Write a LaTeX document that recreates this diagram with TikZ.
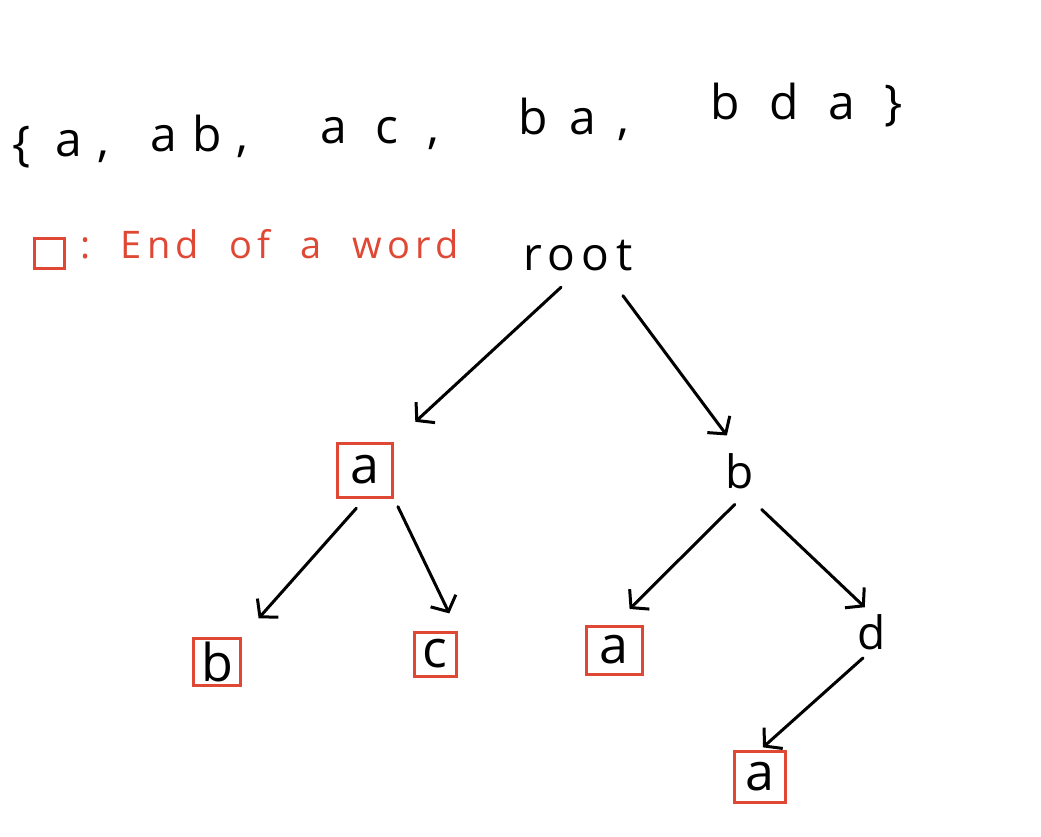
\documentclass[tikz,border=0pt]{standalone}
\usepackage{fontspec}
\setmainfont{Open Sans}
\usetikzlibrary{arrows.meta}

\definecolor{endred}{RGB}{222,72,52}

\tikzset{
  letter/.style={font=\fontsize{46}{54}\selectfont\addfontfeature{LetterSpace=14}, inner sep=0pt},
  word/.style={font=\fontsize{48}{56}\selectfont\addfontfeature{LetterSpace=32}, inner sep=0pt, anchor=base west},
  endbox/.style={letter, font=\fontsize{52}{60}\selectfont, draw=endred, line width=3pt, minimum width=48pt, minimum height=48pt},
  arr/.style={line width=3pt, line cap=round, -{Straight Barb[length=12pt,width=28pt]}},
}

\begin{document}
\begin{tikzpicture}[x=1pt,y=-1pt]
  \useasboundingbox (0,0) rectangle (1041,836);

  % the set of words
  \node[word] (w0) at (12,160) {\{};
  \node[word] (w1) at (55,156) {a,};
  \node[word] (w2) at (150,151) {ab,};
  \node[word, font=\fontsize{48}{56}\selectfont\addfontfeature{LetterSpace=60}] (w3) at (320,143) {ac,};
  \node[word, font=\fontsize{48}{56}\selectfont\addfontfeature{LetterSpace=45}] (w4) at (518,134) {ba,};
  \node[word, font=\fontsize{48}{56}\selectfont\addfontfeature{LetterSpace=62}] (w5) at (710,119) {bda\}};

  % legend
  \node[draw=endred, line width=3pt, minimum size=30pt, inner sep=0pt] (legbox) at (49,253) {};
  \node[word, text=endred, font=\fontsize{38}{46}\selectfont\addfontfeature{LetterSpace=14}] (legtext) at (80,258) {:\ \ End\ \ of\ \ a\ \ word};

  % the trie
  \node[letter] (root) at (578,256) {root};
  \node[endbox, minimum width=55pt, minimum height=54pt] (na) at (365,470) {a};
  \node[letter] (nb) at (740,471) {b};
  \node[endbox, minimum width=47pt, minimum height=47pt] (nab) at (217,662) {b};
  \node[endbox, minimum width=42pt, minimum height=44pt] (nac) at (435,654) {c};
  \node[endbox, minimum width=56pt, minimum height=48pt] (nba) at (614,650) {a};
  \node[letter] (nbd) at (872,632) {d};
  \node[endbox, minimum width=51pt, minimum height=51pt] (nbda) at (760,777) {a};

  \foreach \s/\t/\a/\b in {root.south/na.north east/23/29, root.-30/nb.north/30/22,
      na.south/nab.north east/13/25, na.south east/nac.north east/9/19,
      nb.-60/nba.north/22/22, nb.south/nbd.north/30/10, nbd.south/nbda.north/12/4}
    \draw[arr, shorten <=\a pt, shorten >=\b pt] (\s) -- (\t);

\end{tikzpicture}
\end{document}
